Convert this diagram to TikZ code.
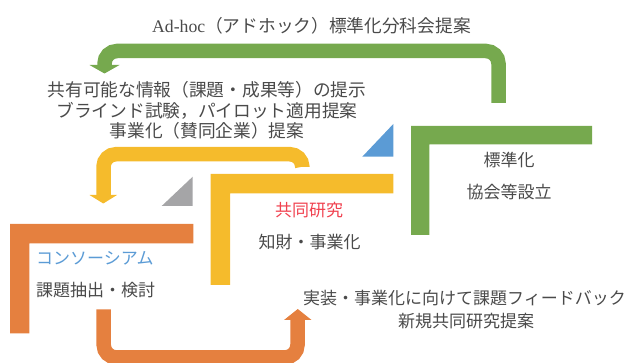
\documentclass[tikz,border=0pt]{standalone}
\usepackage{fontspec}
\setmainfont{Liberation Serif}
\newfontfamily\cjk{Noto Sans CJK JP}
\definecolor{cgreen}{HTML}{76A94E}
\definecolor{cyellow}{HTML}{F5BB2C}
\definecolor{corange}{HTML}{E5803F}
\definecolor{cblue}{HTML}{5B9BD5}
\definecolor{cgray}{HTML}{A5A5A7}
\definecolor{cred}{HTML}{F0414F}
\definecolor{txtgray}{HTML}{4A4A4A}
\begin{document}
\begin{tikzpicture}[x=1pt,y=-1pt,
  band/.style={line width=14.5pt, line cap=butt, rounded corners=12.5pt},
  txt/.style={font=\cjk\fontsize{17}{20}\selectfont, text=txtgray, inner sep=0pt, align=center},
  bigtxt/.style={font=\cjk\fontsize{17.7}{20.3}\selectfont, text=txtgray, inner sep=0pt, align=center}]
\useasboundingbox (0,0) rectangle (625,363);
\clip (0,0) rectangle (625,363);

% ---------- frames (L shapes) ----------
\fill[cgreen] (411,126) -- (592,126) -- (592,144.3) -- (429.3,144.3) -- (429.3,235) -- (411,235) -- cycle;
\fill[cyellow] (210.7,174) -- (393.3,174) -- (393.3,193.3) -- (230,193.3) -- (230,285) -- (210.7,285) -- cycle;
\fill[corange] (10,224) -- (193.3,224) -- (193.3,243.3) -- (29.3,243.3) -- (29.3,333.3) -- (10,333.3) -- cycle;

% ---------- corner triangles ----------
\fill[cblue] (362.3,156.7) -- (393.3,124) -- (393.3,156.7) -- cycle;
\fill[cgray] (161.7,206) -- (192.7,176.7) -- (192.7,206) -- cycle;

% ---------- green arrow ----------
\coordinate (gS) at (498.5,103);
\coordinate (gA) at (498.5,51);
\coordinate (gB) at (104.5,51);
\coordinate (gE) at (104.5,65.8);
\coordinate (gH1) at (89.5,65);
\coordinate (gH2) at (119.5,65);
\coordinate (gH3) at (104.5,73.5);
\draw[band, cgreen] (gS) -- (gA) -- (gB) -- (gE);
\fill[cgreen] (gH1) -- (gH2) -- (gH3) -- cycle;

% ---------- yellow arrow ----------
\coordinate (yS) at (302.3,167);
\coordinate (yA) at (302.3,154.2);
\coordinate (yB) at (103.5,154.2);
\coordinate (yE) at (103.5,195.8);
\coordinate (yH1) at (89.5,195);
\coordinate (yH2) at (117,195);
\coordinate (yH3) at (103.3,203.5);
\draw[band, cyellow] (yS) -- (yA) -- (yB) -- (yE);
\fill[cyellow] (yH1) -- (yH2) -- (yH3) -- cycle;

% ---------- orange arrow ----------
\coordinate (oS) at (103.7,309.3);
\coordinate (oA) at (103.7,357.5);
\coordinate (oB) at (297.5,357.5);
\coordinate (oE) at (297.5,319.2);
\coordinate (oH1) at (284,320);
\coordinate (oH2) at (311.5,320);
\coordinate (oH3) at (297.8,309);
\draw[band, corange] (oS) -- (oA) -- (oB) -- (oE);
\fill[corange] (oH1) -- (oH2) -- (oH3) -- cycle;

% ---------- texts ----------
\node[bigtxt] (title) at (311.5,25.5) {{\rmfamily Ad-hoc}（アドホック）標準化分科会提案};
\node[bigtxt] (share) at (207,110.5) {共有可能な情報（課題・成果等）の提示\\ブラインド試験，パイロット適用提案\\事業化（賛同企業）提案};
\node[txt] (std1) at (509,160) {標準化};
\node[txt] (std2) at (509,191.7) {協会等設立};
\node[txt, text=cred] (joint1) at (309,209.7) {共同研究};
\node[txt] (joint2) at (309.5,241.7) {知財・事業化};
\node[txt, text=cblue, anchor=west] (cons1) at (36,258) {コンソーシアム};
\node[txt, anchor=west] (cons2) at (36,290) {課題抽出・検討};
\node[txt] (fb1) at (464.5,298) {実装・事業化に向けて課題フィードバック};
\node[txt] (fb2) at (466,320.8) {新規共同研究提案};
\end{tikzpicture}
\end{document}
